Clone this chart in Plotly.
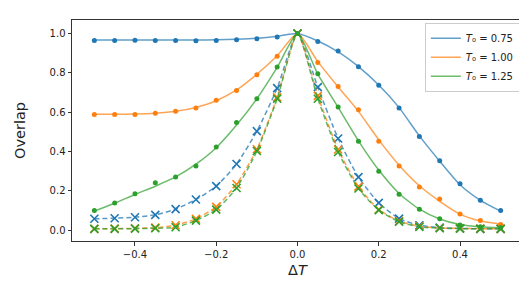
import plotly.graph_objects as go

delta_t = [-0.5, -0.45, -0.4, -0.35, -0.3, -0.25, -0.2, -0.15, -0.1, -0.05, 0.0,
           0.05, 0.1, 0.15, 0.2, 0.25, 0.3, 0.35, 0.4, 0.45, 0.5]

series_names = ["<i>T</i>\u2080 = 0.75", "<i>T</i>\u2080 = 1.00", "<i>T</i>\u2080 = 1.25"]
colors = ["#1f77b4", "#ff7f0e", "#2ca02c"]

# measured overlap (dots)
dots_075 = [0.965, 0.965, 0.966, 0.965, 0.965, 0.964, 0.965, 0.968, 0.973, 0.983, 1.0,
            0.960, 0.911, 0.831, 0.737, 0.621, 0.476, 0.352, 0.235, 0.152, 0.099]
dots_100 = [0.588, 0.588, 0.588, 0.594, 0.604, 0.621, 0.661, 0.710, 0.790, 0.884, 1.0,
            0.853, 0.730, 0.612, 0.452, 0.326, 0.219, 0.158, 0.081, 0.048, 0.028]
dots_125 = [0.099, 0.138, 0.185, 0.240, 0.270, 0.326, 0.422, 0.547, 0.668, 0.830, 1.0,
            0.796, 0.626, 0.452, 0.299, 0.182, 0.106, 0.057, 0.025, 0.016, 0.011]

# fitted curves (solid lines)
fit_075 = [0.967, 0.967, 0.967, 0.967, 0.967, 0.967, 0.968, 0.971, 0.976, 0.986, 1.0,
           0.962, 0.907, 0.832, 0.738, 0.623, 0.479, 0.350, 0.230, 0.151, 0.096]
fit_100 = [0.589, 0.589, 0.590, 0.594, 0.604, 0.624, 0.658, 0.713, 0.793, 0.887, 1.0,
           0.857, 0.728, 0.604, 0.459, 0.330, 0.225, 0.146, 0.081, 0.046, 0.031]
fit_125 = [0.096, 0.136, 0.181, 0.223, 0.270, 0.335, 0.419, 0.534, 0.668, 0.828, 1.0,
           0.793, 0.624, 0.454, 0.305, 0.186, 0.106, 0.056, 0.028, 0.016, 0.011]

# second set (dashed, x markers)
cross_075 = [0.057, 0.060, 0.065, 0.077, 0.106, 0.155, 0.223, 0.336, 0.503, 0.722, 1.0,
             0.727, 0.466, 0.269, 0.138, 0.058, 0.024, 0.012, 0.008, 0.006, 0.006]
cross_100 = [0.006, 0.007, 0.008, 0.012, 0.024, 0.057, 0.118, 0.233, 0.411, 0.675, 1.0,
             0.683, 0.410, 0.221, 0.104, 0.045, 0.019, 0.010, 0.008, 0.007, 0.006]
cross_125 = [0.006, 0.006, 0.007, 0.009, 0.014, 0.048, 0.104, 0.214, 0.402, 0.668, 1.0,
             0.668, 0.397, 0.211, 0.101, 0.042, 0.016, 0.009, 0.007, 0.006, 0.006]

x_ticks = [-0.4, -0.2, 0.0, 0.2, 0.4]
x_tick_labels = ["\u22120.4", "\u22120.2", "0.0", "0.2", "0.4"]
y_ticks = [0.0, 0.2, 0.4, 0.6, 0.8, 1.0]
y_tick_labels = ["0.0", "0.2", "0.4", "0.6", "0.8", "1.0"]

fits = [fit_075, fit_100, fit_125]
dots = [dots_075, dots_100, dots_125]
crosses = [cross_075, cross_100, cross_125]

fig = go.Figure()
for name, c, f, d, cr in zip(series_names, colors, fits, dots, crosses):
    fig.add_trace(go.Scatter(x=delta_t, y=f, mode="lines", name=name,
                             line=dict(color=c, width=1.5, shape="spline", smoothing=0.6),
                             opacity=0.7))
    fig.add_trace(go.Scatter(x=delta_t, y=d, mode="markers", showlegend=False,
                             marker=dict(color=c, size=5, symbol="circle")))
    fig.add_trace(go.Scatter(x=delta_t, y=cr, mode="lines", showlegend=False,
                             line=dict(color=c, width=1.5, dash="5px,3px", shape="spline", smoothing=0.6),
                             opacity=0.75))
    fig.add_trace(go.Scatter(x=delta_t, y=cr, mode="markers", showlegend=False,
                             marker=dict(color=c, size=8, symbol="x-thin",
                                         line=dict(color=c, width=1.6))))

axis_common = dict(showline=True, linecolor="#333333", linewidth=1, mirror=True,
                   ticks="outside", ticklen=3.5, tickcolor="#333333", showgrid=False,
                   zeroline=False, tickfont=dict(size=10, color="#222222"))

fig.update_layout(
    width=527, height=286,
    margin=dict(l=58, r=11, t=11, b=53),
    paper_bgcolor="white", plot_bgcolor="white",
    font=dict(family="DejaVu Sans", color="#222222"),
    xaxis=dict(range=[-0.555, 0.555], tickvals=x_ticks, ticktext=x_tick_labels,
               title=dict(text="\u0394<i>T</i>", font=dict(size=14.5), standoff=6),
               **axis_common),
    yaxis=dict(range=[-0.056, 1.069], tickvals=y_ticks, ticktext=y_tick_labels,
               title=dict(text="Overlap", font=dict(size=14.5), standoff=20),
               **axis_common),
    legend=dict(x=0.993, y=0.988, xanchor="right", yanchor="top",
                bgcolor="rgba(255,255,255,0.8)", bordercolor="#cccccc", borderwidth=1,
                font=dict(size=10), itemwidth=30, tracegroupgap=0),
    showlegend=True,
)

fig.write_html("out.html")
